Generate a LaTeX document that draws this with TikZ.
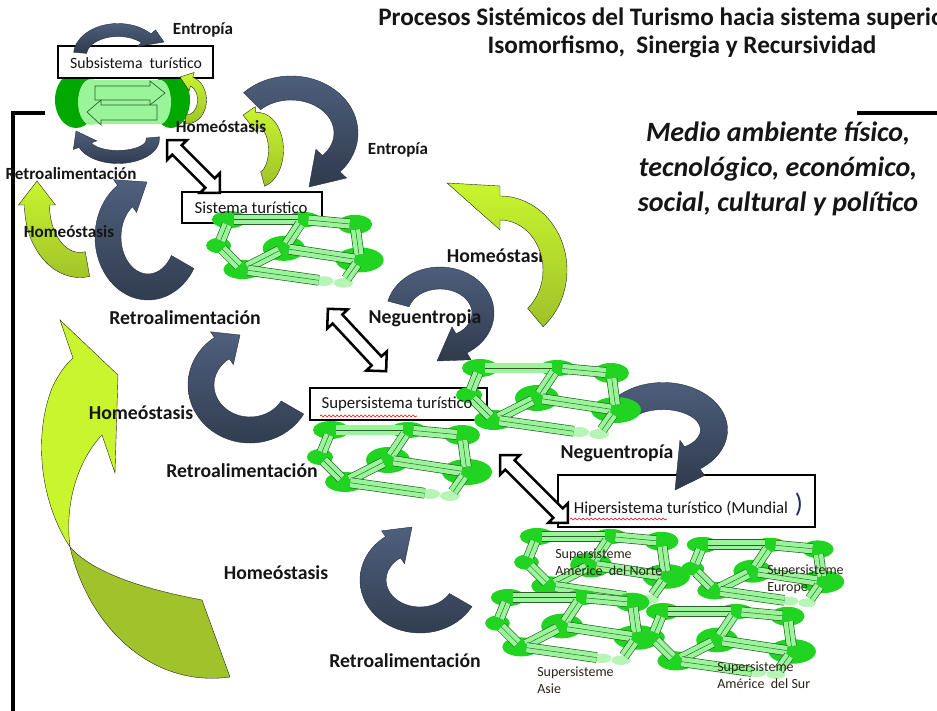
\documentclass[tikz,border=0pt]{standalone}
\usepackage{fontspec}
\setmainfont{Carlito}
\usetikzlibrary{shapes.arrows,decorations.pathmorphing}
\definecolor{darkA}{HTML}{4F607E}
\definecolor{darkB}{HTML}{2F3A4C}
\definecolor{darkE}{HTML}{263040}
\definecolor{ybright}{HTML}{C8F52E}
\definecolor{yolive}{HTML}{A0C22A}
\definecolor{ngreen}{HTML}{22D422}
\definecolor{lgreen}{HTML}{9AF59A}
\definecolor{pgreen}{HTML}{B6F5B6}
\definecolor{dgreen}{HTML}{2A5E2A}
\definecolor{sgreen}{HTML}{00A800}
\definecolor{navy}{HTML}{1F2F5F}
\definecolor{txt}{HTML}{151515}
\definecolor{ltxt}{HTML}{2A2418}
\pgfkeys{/carr/.cd, cx/.store in=\caX, cy/.store in=\caY, rx/.store in=\caRX, ry/.store in=\caRY,
  a/.store in=\caA, b/.store in=\caB, w/.store in=\caW, h/.store in=\caH, tx/.store in=\caTX, ty/.store in=\caTY}
\newcommand\carrow[2]{%
  \pgfkeys{/carr/.cd,#2}%
  \path[#1] ({\caX+(\caRX+\caW/2)*cos(\caA)},{\caY+(\caRY+\caW/2)*sin(\caA)})
    arc[start angle=\caA, end angle=\caB, x radius={\caRX+\caW/2}, y radius={\caRY+\caW/2}]
    -- ({\caX+(\caRX+\caW/2+\caH)*cos(\caB)},{\caY+(\caRY+\caW/2+\caH)*sin(\caB)})
    -- (\caTX,\caTY)
    -- ({\caX+(\caRX-\caW/2-\caH)*cos(\caB)},{\caY+(\caRY-\caW/2-\caH)*sin(\caB)})
    -- ({\caX+(\caRX-\caW/2)*cos(\caB)},{\caY+(\caRY-\caW/2)*sin(\caB)})
    arc[start angle=\caB, end angle=\caA, x radius={\caRX-\caW/2}, y radius={\caRY-\caW/2}]
    -- cycle;}
\tikzset{
  darr/.style={draw=darkE, line width=0.3pt, top color=darkA, bottom color=darkB},
  yarr/.style={draw=black!85, line width=0.3pt, top color=ybright, bottom color=yolive},
  box/.style={draw=black, line width=1.9pt, fill=white, inner sep=0pt},
  btxt/.style={font=\fontsize{12.6}{15}\selectfont, text=txt, inner sep=0pt},
  big/.style={font=\fontsize{14.8}{17}\selectfont\bfseries, text=txt, inner sep=0pt},
  small/.style={font=\fontsize{12.8}{15}\selectfont\bfseries, text=txt, inner sep=0pt},
  ltx/.style={font=\fontsize{10.5}{12.5}\selectfont, text=ltxt, inner sep=0pt, align=left, anchor=west},
  dbl/.style={double arrow, draw=black, line width=1.9pt, fill=white, minimum width=21pt,
    double arrow head extend=5.5pt, inner sep=4pt},
  sarr/.style={draw=dgreen, line width=0.5pt, fill=lgreen},
  frame/.style={line width=2.3pt, black},
  ledge/.style={draw=dgreen, line width=0.5pt, double=lgreen, double distance=7pt, shorten <=4pt, shorten >=4pt},
  lmid/.style={draw=dgreen, line width=0.35pt, shorten <=4pt, shorten >=4pt},
  squig/.style={red, line width=0.45pt, decorate, decoration={snake, amplitude=0.7pt, segment length=3pt}},
  lattice/.pic={
    \foreach \p/\x/\y in {n1/21/10,n2/98/10,n3/152/15,n4/10/37,n5/78/40,n6/157/52,n7/35/62,n8/120/74,n9/140/76}
      \coordinate (-\p) at (\x,\y);
    \foreach \p/\a/\b in {n1/18/9,n2/18/8,n3/18/10,n4/13/8,n5/22/13,n6/25/13,n7/20/10}
      \fill[ngreen] (-\p) ellipse[x radius=\a, y radius=\b];
    \foreach \p in {n8,n9} \fill[pgreen] (-\p) ellipse[x radius=10, y radius=5];
    \foreach \u/\v in {n1/n2,n2/n3,n1/n4,n4/n7,n2/n5,n3/n6,n5/n6,n5/n7,n7/n8,n6/n9}
      {\draw[ledge] (-\u) -- (-\v); \draw[lmid] (-\u) -- (-\v);}
  }
}
\begin{document}
\begin{tikzpicture}[x=0.75pt,y=-0.75pt]
\useasboundingbox (0,0) rectangle (937,710);
% frame
\coordinate (fa) at (45,113); \coordinate (fb) at (13,113); \coordinate (fc) at (13,712);
\coordinate (fd) at (857,113); \coordinate (fe) at (940,113);
\draw[frame] (fa) -- (fb) -- (fc);
\draw[frame] (fd) -- (fe);
% title
\node[font=\fontsize{18.9}{21.75}\selectfont\bfseries, text=txt, inner sep=0pt, anchor=west] (t1) at (378,19) {Procesos Sistémicos del Turismo hacia sistema superior};
\node[font=\fontsize{18.9}{21.75}\selectfont\bfseries, text=txt, inner sep=0pt] (t2) at (682,47) {Isomorfismo,\ \ Sinergia y Recursividad};
\node[font=\fontsize{21}{26.3}\selectfont\bfseries\itshape, text=txt, inner sep=0pt, align=center] (medio) at (778,169) {Medio ambiente físico,\\tecnológico, económico,\\social, cultural y político};
% subsystem shape
\fill[sgreen] (76,100) ellipse[x radius=21, y radius=28];
\fill[sgreen] (171,100) ellipse[x radius=19, y radius=28];
\fill[lgreen] (90,80) rectangle (162,124);
\fill[lgreen] (91,102) ellipse[x radius=13, y radius=23];
\fill[lgreen] (160,102) ellipse[x radius=11, y radius=22];
\path[sarr] (95,86) -- (150,86) -- (150,81) -- (165,93) -- (150,105) -- (150,100) -- (95,100) -- cycle;
\path[sarr] (157,105) -- (101,105) -- (101,100) -- (87,112) -- (101,125) -- (101,120) -- (157,120) -- cycle;
% boxes
\node[box, minimum width=116.25pt, minimum height=24pt] (bsub) at (135.5,62) {};
\node[box, minimum width=105pt, minimum height=23.25pt] (bsis) at (252,207.5) {};
\node[box, minimum width=132.75pt, minimum height=24pt] (bsup) at (398.5,404) {};
\node[box, minimum width=192.75pt, minimum height=39pt] (bhip) at (686.5,501) {};
% curved arrows
\carrow{darr}{cx=118,cy=55,rx=38,ry=25,a=185,b=318,w=13,h=6,tx=164,ty=42}
\carrow{darr}{cx=118,cy=139,rx=35,ry=18,a=-5,b=160,w=13,h=6,tx=76,ty=131}
\carrow{yarr}{cx=188,cy=100,rx=14,ry=19,a=100,b=-75,w=9,h=5,tx=180,ty=77}
\carrow{yarr}{cx=258,cy=150,rx=18,ry=30,a=75,b=-95,w=15,h=6,tx=243,ty=115}
\carrow{darr}{cx=291,cy=133,rx=55,ry=45,a=225,b=403,w=24,h=9,tx=309,ty=187}
\carrow{yarr}{cx=80,cy=205,rx=43,ry=60,a=80,b=180,w=25,h=6,tx=37,ty=181}
\carrow{darr}{cx=148,cy=237,rx=40,ry=50,a=30,b=235,w=26,h=7,tx=147,ty=182}
\carrow{darr}{cx=440,cy=313,rx=43,ry=35,a=195,b=420,w=22,h=8,tx=437,ty=361}
\carrow{darr}{cx=250,cy=385,rx=49,ry=45,a=30,b=235,w=26,h=7,tx=240,ty=335}
\carrow{darr}{cx=420,cy=580,rx=47,ry=40,a=30,b=235,w=26,h=7,tx=412,ty=527}
\carrow{darr}{cx=663,cy=430,rx=51,ry=34,a=215,b=415,w=27,h=8,tx=675,ty=490}
% big yellow-green arrow
\path[draw=black!85, line width=0.3pt, fill=yolive] (70,547) .. controls (88,625) and (150,688) .. (230,677)
  -- (202,600) .. controls (150,590) and (95,575) .. (70,547) -- cycle;
\path[draw=black!85, line width=0.3pt, fill=ybright] (60,320) -- (118,375) -- (115,473) -- (102,435)
  .. controls (80,458) and (64,500) .. (70,547)
  .. controls (42,505) and (32,440) .. (52,388)
  .. controls (58,375) and (65,365) .. (73,358) -- cycle;
% lattices
\pic (L1) [scale=0.96] at (209,210) {lattice};
\pic (L2) at (459,358) {lattice};
\pic (L3) at (310,420) {lattice};
\pic (L4) [scale=0.95] at (517,527) {lattice};
\pic (L5) [scale=0.88] at (684,536) {lattice};
\pic (L6) [scale=0.95] at (488,588) {lattice};
\pic (L7) [scale=0.95] at (643,602) {lattice};
% double arrows
\node[dbl, minimum height=56pt, rotate=-45] (d1) at (193.5,166.5) {};
\node[dbl, minimum height=64pt, rotate=-47] (d2) at (357,340) {};
\node[dbl, minimum height=72pt, rotate=-45] (d3) at (534,489) {};
% box texts
\node[btxt, font=\fontsize{11.8}{14}\selectfont] (tsub) at (136,63) {Subsistema\ \ turístico};
\node[btxt] (tsis) at (251,208) {Sistema turístico};
\node[btxt] (tsup) at (397,404) {Supersistema turístico};
\node[btxt] (thip) at (681,509) {Hipersistema turístico (Mundial};
\node[font=\fontsize{20}{22}\selectfont, text=navy, inner sep=0pt] (tpar) at (799,505) {)};
\coordinate (q1) at (320,416); \coordinate (q2) at (417,416);
\coordinate (q3) at (570,519); \coordinate (q4) at (667,519);
\draw[squig] (q1) -- (q2);
\draw[squig] (q3) -- (q4);
% labels
\node[small] (e1) at (203,30) {Entropía};
\node[small] (h1) at (221,127) {Homeóstasis};
\node[small] (r1) at (71,174) {Retroalimentación};
\node[small] (h2) at (69,232) {Homeóstasis};
\node[small] (e2) at (398,150) {Entropía};
\node[big] (h3) at (499,256) {Homeóstasis};
\node[big] (n1) at (425,318) {Neguentropia};
\node[big] (r2) at (185,318) {Retroalimentación};
\node[big] (h4) at (141,413) {Homeóstasis};
\node[big] (r3) at (242,471) {Retroalimentación};
\node[big] (n2) at (617,453) {Neguentropía};
\node[big] (h5) at (276,573) {Homeóstasis};
\node[big] (r4) at (405,661) {Retroalimentación};
\node[ltx] (s1) at (555,562) {Supersisteme\\Américe\ \ del Norte};
\node[ltx] (s2) at (767,579) {Supersisteme\\Europe};
\node[ltx] (s3) at (537,680) {Supersisteme\\Asie};
\node[ltx] (s4) at (717,675) {Supersisteme\\Américe\ \ del Sur};
% arrow over its label
\carrow{yarr}{cx=500,cy=270,rx=55,ry=62,a=50,b=-90,w=24,h=10,tx=447,ty=183}
\end{tikzpicture}
\end{document}
